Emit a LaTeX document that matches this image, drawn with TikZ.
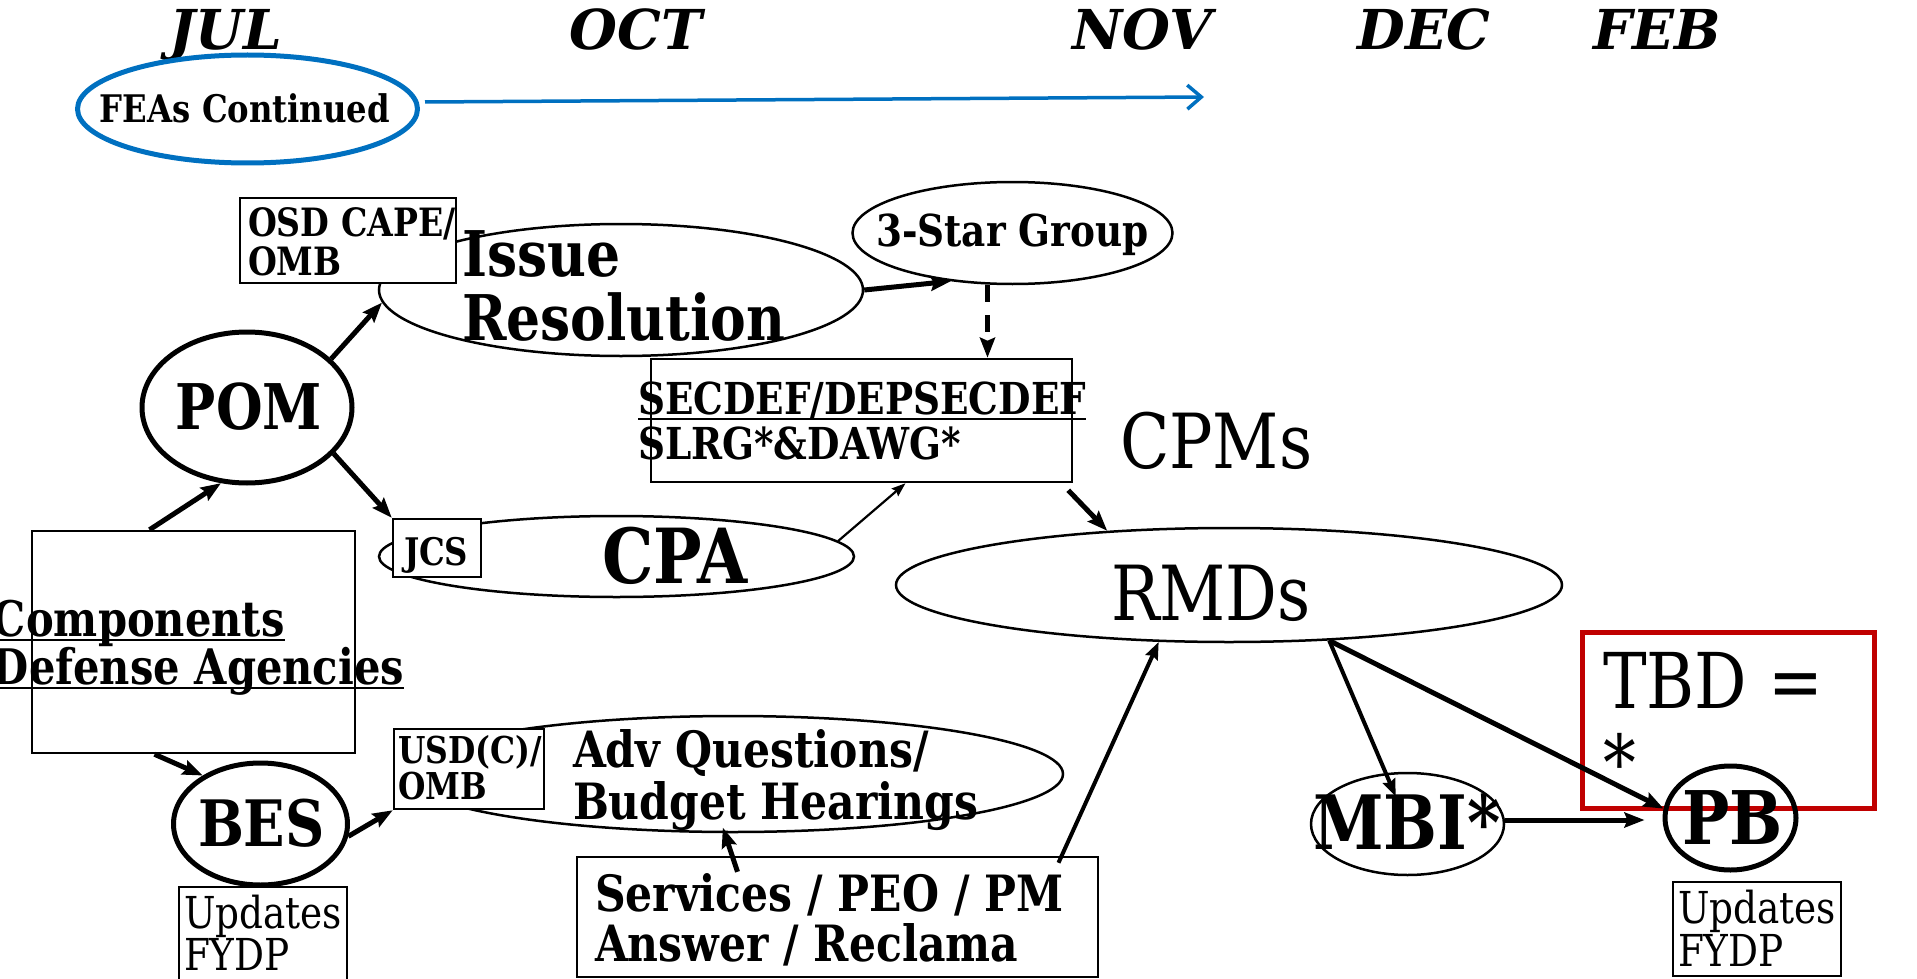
\documentclass[tikz,border=0pt]{standalone}
\usepackage{fontspec}
\setmainfont{DejaVu Serif}
\newfontfamily\cf{DejaVu Serif}[FakeStretch=0.85]
\usetikzlibrary{shapes.geometric,arrows.meta}
\definecolor{feablue}{RGB}{0,112,192}
\definecolor{tbdred}{RGB}{192,0,0}
\newcommand{\fs}[1]{\fontsize{#1}{#1}\selectfont}
\tikzset{
  txt/.style={inner sep=0pt, outer sep=0pt, anchor=base west},
  ctxt/.style={inner sep=0pt, outer sep=0pt, anchor=base},
  ell/.style={ellipse, draw, line width=2.5pt, inner sep=0pt, fill=white},
  thickell/.style={ellipse, draw, line width=5pt, inner sep=0pt},
  box/.style={rectangle, draw, line width=2.5pt, inner sep=0pt, fill=white},
  openbox/.style={rectangle, draw, line width=2.5pt, inner sep=0pt},
  arr/.style={line width=5pt, -{Stealth[length=20pt,width=15pt,inset=3pt]}},
  marr/.style={line width=4pt, -{Stealth[length=17pt,width=13pt,inset=2pt]}},
  tarr/.style={line width=2.2pt, -{Stealth[length=14pt,width=10pt,inset=2pt]}},
  ul/.style={line width=2.5pt}
}
\begin{document}
\begin{tikzpicture}[x=1pt,y=-1pt]
\useasboundingbox (0,0) rectangle (1917,979);
% months
\node[ctxt] (jul) at (226,50) {\bfseries\itshape\fs{55}JUL};
\node[ctxt] (oct) at (636,50) {\bfseries\itshape\fs{55}OCT};
\node[ctxt] (nov) at (1142,50) {\bfseries\itshape\fs{55}NOV};
\node[ctxt] (dec) at (1424,50) {\bfseries\itshape\fs{55}DEC};
\node[ctxt] (feb) at (1657,50) {\bfseries\itshape\fs{55}FEB};
% FEAs
\node[ellipse, draw=feablue, line width=5pt, minimum width=340pt, minimum height=108pt, inner sep=0pt] (feas) at (247.5,109) {};
\node[ctxt] (feast) at (245,123) {\cf\bfseries\fs{38}FEAs Continued};
\coordinate (feaend) at (1204,97);
\draw[feablue, line width=3.5pt, -{Straight Barb[length=14pt,width=24pt]}] ([yshift=7pt]feas.east) ++(5pt,0) -- (feaend);
% Issue resolution
\node[ell, minimum width=484pt, minimum height=132pt] (issue) at (621,290) {};
\node[box, minimum width=216pt, minimum height=85pt] (osd) at (348,240.5) {};
\node[txt] (osdt1) at (248,236) {\cf\bfseries\fs{39}OSD CAPE/};
\node[txt] (osdt2) at (248,275) {\cf\bfseries\fs{39}OMB};
\node[txt] (issuet1) at (462,276) {\cf\bfseries\fs{63}Issue};
\node[txt] (issuet2) at (462,340) {\cf\bfseries\fs{63}Resolution};
% 3-star
\node[ell, minimum width=320pt, minimum height=102pt] (star) at (1012.5,233) {};
\node[txt] (start) at (876,246) {\cf\bfseries\fs{44}3-Star Group};
% SECDEF
\node[openbox, minimum width=421pt, minimum height=123pt] (secdef) at (861.5,420.5) {};
\node[txt] (sect1) at (638,414) {\cf\bfseries\fs{44}SECDEF/DEPSECDEF};
\node[txt] (sect2) at (638,459) {\cf\bfseries\fs{44}SLRG*\&DAWG*};
\draw[ul] ([yshift=-5pt]sect1.base west) -- ([yshift=-5pt]sect1.base east);
\node[txt] (cpms) at (1120,468) {\cf\fs{76}CPMs};
% POM
\node[thickell, minimum width=210pt, minimum height=151pt] (pom) at (247,407.5) {};
\node[ctxt] (pomt) at (249,429) {\cf\bfseries\fs{63}POM};
% CPA
\node[ell, minimum width=475pt, minimum height=81pt] (cpa) at (616.5,556.5) {};
\node[box, minimum width=88pt, minimum height=58pt] (jcs) at (437,548) {};
\node[txt] (jcst) at (404,565) {\cf\bfseries\fs{38}JCS};
\node[txt] (cpat) at (602,583) {\cf\bfseries\fs{76}CPA};
% RMDs
\node[ell, minimum width=666pt, minimum height=114pt] (rmd) at (1229,585) {};
\node[txt] (rmdt) at (1111,620) {\cf\fs{76}RMDs};
% Components
\node[openbox, minimum width=323pt, minimum height=222pt] (comp) at (193.5,642) {};
\node[txt] (compt1) at (-7,636) {\cf\bfseries\fs{49}Components};
\node[txt] (compt2) at (-7,684) {\cf\bfseries\fs{49}Defense Agencies};
\draw[ul] ([yshift=-4pt]compt1.base west) -- ([yshift=-4pt]compt1.base east);
\draw[ul] ([yshift=-4pt]compt2.base west) -- ([yshift=-4pt]compt2.base east);
% BES
\node[thickell, minimum width=174pt, minimum height=122pt] (bes) at (260.5,824) {};
\node[txt] (best) at (198,846) {\cf\bfseries\fs{64}BES};
\node[openbox, minimum width=168pt, minimum height=108pt] (updl) at (263,941) {};
\node[txt] (updlt1) at (184,928) {\cf\fs{44}Updates};
\node[txt] (updlt2) at (184,970) {\cf\fs{44}FYDP};
% Adv questions
\node[ell, minimum width=660pt, minimum height=116pt] (adv) at (733,774) {};
\node[box, minimum width=150pt, minimum height=80pt] (usd) at (469,769) {};
\node[txt] (usdt1) at (398,763) {\cf\bfseries\fs{37}USD(C)/};
\node[txt] (usdt2) at (398,799) {\cf\bfseries\fs{37}OMB};
\node[txt] (advt1) at (573,767) {\cf\bfseries\fs{50}Adv Questions/};
\node[txt] (advt2) at (573,819) {\cf\bfseries\fs{50}Budget Hearings};
% Services
\node[openbox, minimum width=521pt, minimum height=120pt] (serv) at (837.5,917) {};
\node[txt] (servt1) at (595,911) {\cf\bfseries\fs{50}Services / PEO / PM};
\node[txt] (servt2) at (595,961) {\cf\bfseries\fs{50}Answer / Reclama};
% MBI, PB
\node[ell, minimum width=193pt, minimum height=102pt] (mbi) at (1407.5,824) {};
\node[draw=tbdred, line width=5pt, inner sep=0pt, minimum width=292pt, minimum height=176pt] (tbd) at (1728,720) {};
\node[txt] (tbdt1) at (1603,708) {\cf\fs{77}TBD =};
\node[txt] (tbdt2) at (1603,790) {\cf\fs{77}*};
\node[thickell, minimum width=131pt, minimum height=104pt] (pb) at (1730.5,818) {};
\node[txt] (mbit) at (1313,849) {\cf\bfseries\fs{75}MBI*};
\node[txt] (pbt) at (1682,844) {\cf\bfseries\fs{74}PB};
\node[openbox, minimum width=168pt, minimum height=94pt] (updr) at (1757,929) {};
\node[txt] (updrt1) at (1678,923) {\cf\fs{44}Updates};
\node[txt] (updrt2) at (1678,966) {\cf\fs{44}FYDP};
% connectors
\draw[arr] ([xshift=-44pt]comp.north) -- (pom.-109);
\draw[arr] (pom.30) -- (issue.183);
\draw[arr] (pom.-28) -- (jcs.north west);
\draw[arr] (issue.east) -- (star.-142);
\draw[line width=4.5pt, -{Stealth[length=20pt,width=15pt,inset=3pt]}, dash pattern=on 17pt off 13pt] ([xshift=-25pt]star.south) -- ([xshift=-25pt]star.south |- secdef.north);
\draw[tarr] (cpa.4) -- ([xshift=44pt]secdef.south);
\draw[arr] ([xshift=-5pt,yshift=-7pt]secdef.south east) -- (rmd.156);
\draw[arr] ([xshift=-39pt]comp.south) -- (bes.140);
\draw[arr] (bes.-8) -- (usd.south west);
\draw[arr, shorten >=-6pt] ([xshift=-100pt,yshift=-16pt]serv.north) -- (adv.-98);
\draw[marr] ([xshift=221pt,yshift=-7pt]serv.north) -- (rmd.-141);
\draw[marr] (rmd.-29) -- (mbi.center) [shorten >=30pt];
\draw[arr] (rmd.-29) -- (pb.172);
\draw[arr] ([yshift=4pt]mbi.east) -- ([yshift=4pt]mbi.east -| pb.west) [shorten >=18pt];
\end{tikzpicture}
\end{document}
